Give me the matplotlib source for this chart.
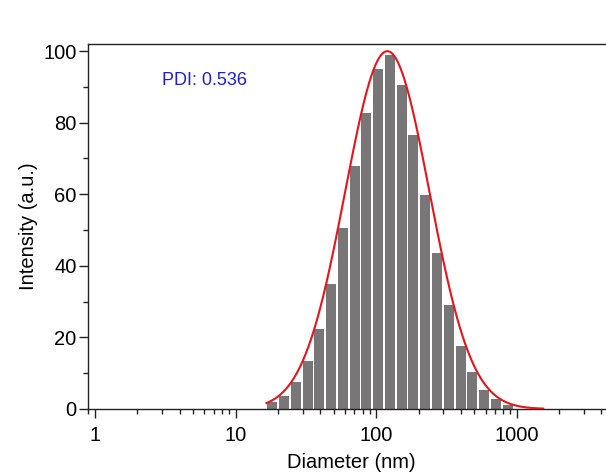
import numpy as np
import matplotlib
matplotlib.use("Agg")
import matplotlib.pyplot as plt
from matplotlib.ticker import LogLocator, NullFormatter, FixedLocator

plt.rcParams["font.family"] = ["Liberation Sans", "DejaVu Sans"]

# size distribution, bin centres (nm) and intensity (a.u.)
diameter = [18.2, 22.1, 26.8, 32.5, 39.4, 47.8, 58.0, 70.3, 85.2, 103.3, 125.3,
            151.9, 184.2, 223.4, 270.9, 328.5, 398.4, 483.1, 585.8, 710.3, 861.3]
intensity = [2.0, 3.7, 7.6, 13.4, 22.3, 35.0, 50.5, 67.9, 82.8, 95.0, 99.0,
             90.5, 76.5, 59.7, 43.6, 29.1, 17.6, 10.3, 5.3, 2.7, 1.1]

# lognormal fit
fit_peak = 100.0
fit_center = 120.0     # nm
fit_sigma = 0.30       # decades
fit_range = (16.6, 1540.0)

pdi_text = "PDI: 0.536"

fig = plt.figure(figsize=(6.06, 4.76), dpi=100)
ax = fig.add_axes([0.146, 0.1408, 0.869, 0.7668])

# bars on a log axis: edges from the spacing of the bin centres
d = np.array(diameter)
step = np.diff(np.log10(d)).mean()
half = 0.425 * step
left = d / 10**half
right = d * 10**half
ax.bar(left, intensity, width=right - left, align="edge",
       color="#787676", edgecolor="none", zorder=2)

xs = np.logspace(np.log10(fit_range[0]), np.log10(fit_range[1]), 400)
ys = fit_peak * np.exp(-(np.log10(xs) - np.log10(fit_center))**2 / (2 * fit_sigma**2))
ax.plot(xs, ys, color="#e8141c", lw=1.5, zorder=3)

ax.set_xscale("log")
ax.set_xlim(0.9, 5000)
ax.set_ylim(0, 102)

ax.xaxis.set_major_locator(FixedLocator([1, 10, 100, 1000]))
ax.set_xticklabels(["1", "10", "100", "1000"])
ax.xaxis.set_minor_locator(LogLocator(base=10, subs=np.arange(2, 10)))
ax.xaxis.set_minor_formatter(NullFormatter())
ax.set_yticks([0, 20, 40, 60, 80, 100])
ax.set_yticks([10, 30, 50, 70, 90], minor=True)

ax.tick_params(which="major", direction="out", length=6.5, width=1,
               labelsize=14.5, color="#222222")
ax.tick_params(which="minor", direction="out", length=3.5, width=1,
               color="#222222")
ax.tick_params(axis="x", which="major", pad=5.5)
ax.tick_params(axis="y", which="major", pad=2)

for s in ax.spines.values():
    s.set_linewidth(1.0)
    s.set_color("#222222")

ax.set_xlabel("Diameter (nm)", fontsize=14.5, labelpad=6)
ax.set_ylabel("Intensity (a.u.)", fontsize=14.5, labelpad=4)

ax.text(0.139, 0.901, pdi_text, transform=ax.transAxes, color="#1f1fd0",
        fontsize=13, ha="left", va="center")

fig.savefig("out.png", dpi=100)
